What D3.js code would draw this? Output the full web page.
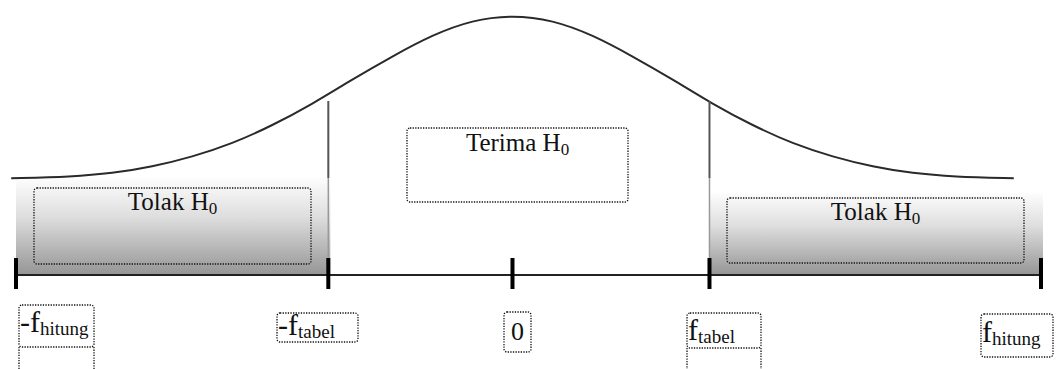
<!DOCTYPE html>
<html>
<head>
<meta charset="utf-8">
<script src="https://cdn.jsdelivr.net/npm/d3@7"></script>
<style>
  body { margin: 0; background: #fff; }
  svg { display: block; }
  text { font-family: "Liberation Serif", "Times New Roman", serif; fill: #111; }
</style>
</head>
<body>
<div id="chart"></div>
<script>
// curve (z position, height relative to peak)
var curveZ = [-3.13, -2.75, -2.5, -2.25, -2, -1.75, -1.5, -1.25, -1, -0.75, -0.5, -0.25, 0,
              0.25, 0.5, 0.75, 1, 1.25, 1.5, 1.75, 2, 2.25, 2.5, 2.75, 3.13];
var curveH = [0.01, 0.02, 0.04, 0.08, 0.14, 0.22, 0.33, 0.46, 0.61, 0.75, 0.88, 0.97, 1,
              0.97, 0.88, 0.75, 0.61, 0.46, 0.33, 0.22, 0.14, 0.08, 0.04, 0.02, 0.01];

// points on the axis
var tickValues = [-3.1, -1.15, 0, 1.23, 3.3];
var tickMain = ["-f", "-f", "0", "f", "f"];
var tickSub = ["hitung", "tabel", "", "tabel", "hitung"];

// regions
var regionNames = ["Tolak H", "Terima H", "Tolak H"];
var regionSub = ["0", "0", "0"];
var regionFrom = [-3.1, -1.15, 1.23];
var regionTo = [-1.15, 1.23, 3.3];

var width = 1057, height = 369;
var axisY = 275;

var svg = d3.select("#chart").append("svg")
    .attr("width", width)
    .attr("height", height);

var x = d3.scaleLinear().domain([-3.1, 3.3]).range([16, 1041]);
var y = d3.scaleLinear().domain([0, 1]).range([180, 15]);

var defs = svg.append("defs");
var grad = defs.append("linearGradient")
    .attr("id", "shade")
    .attr("x1", 0).attr("y1", 0).attr("x2", 0).attr("y2", 1);
grad.append("stop").attr("offset", "0%").attr("stop-color", "#fdfdfd");
grad.append("stop").attr("offset", "40%").attr("stop-color", "#dedede");
grad.append("stop").attr("offset", "100%").attr("stop-color", "#959595");

// shaded rejection regions
var shadeTop = [178, 193];
[0, 2].forEach(function(i, k) {
    svg.append("rect")
        .attr("x", x(regionFrom[i]))
        .attr("y", shadeTop[k])
        .attr("width", x(regionTo[i]) - x(regionFrom[i]) + 2)
        .attr("height", axisY - shadeTop[k])
        .attr("fill", "url(#shade)");
});

// the bell curve
var line = d3.line()
    .x(function(d, i) { return x(curveZ[i]); })
    .y(function(d) { return y(d); })
    .curve(d3.curveBasis);

svg.append("path")
    .datum(curveH)
    .attr("d", line)
    .attr("fill", "none")
    .attr("stroke", "#2a2a2a")
    .attr("stroke-width", 2);

// critical value lines
[tickValues[1], tickValues[3]].forEach(function(v) {
    svg.append("line")
        .attr("x1", x(v)).attr("x2", x(v))
        .attr("y1", 101).attr("y2", 178)
        .attr("stroke", "#555").attr("stroke-width", 2);
    svg.append("line")
        .attr("x1", x(v)).attr("x2", x(v))
        .attr("y1", 178).attr("y2", axisY)
        .attr("stroke", "#999").attr("stroke-width", 1.5);
});

// axis line
svg.append("line")
    .attr("x1", x(tickValues[0])).attr("x2", x(tickValues[4]))
    .attr("y1", axisY).attr("y2", axisY)
    .attr("stroke", "#222").attr("stroke-width", 2);

svg.selectAll(".tick").data(tickValues).enter()
    .append("rect")
    .attr("class", "tick")
    .attr("x", function(d) { return x(d) - 2; })
    .attr("y", 258)
    .attr("width", 4)
    .attr("height", 31)
    .attr("fill", "#000");

function dotted(x0, y0, w, h) {
    svg.append("rect")
        .attr("x", x0).attr("y", y0)
        .attr("width", w).attr("height", h)
        .attr("rx", 3)
        .attr("fill", "none")
        .attr("stroke", "#111")
        .attr("stroke-width", 1.3)
        .attr("stroke-dasharray", "1.3,1.3");
}
function dottedLine(x0, y0, y1) {
    svg.append("line")
        .attr("x1", x0).attr("x2", x0).attr("y1", y0).attr("y2", y1)
        .attr("stroke", "#111").attr("stroke-width", 1.3)
        .attr("stroke-dasharray", "1.3,1.3");
}

// region label boxes
var boxes = [
    {x: 34, y: 188, w: 277, h: 76, ty: 210},
    {x: 407, y: 128, w: 221, h: 74, ty: 151},
    {x: 727, y: 198, w: 297, h: 65, ty: 220}
];
boxes.forEach(function(b, i) {
    dotted(b.x, b.y, b.w, b.h);
    var t = svg.append("text")
        .attr("x", b.x + b.w / 2)
        .attr("y", b.ty)
        .attr("text-anchor", "middle")
        .style("font-size", "25px");
    t.append("tspan").text(regionNames[i]);
    t.append("tspan").attr("dy", 4).style("font-size", "17px").text(regionSub[i]);
});

// tick label boxes
var labelBoxes = [
    {x: 19, y: 305, w: 75, h: 42, ty: 332, tail: true},
    {x: 277, y: 313, w: 81, h: 29, ty: 335, tail: false},
    {x: 504, y: 312, w: 27, h: 40, ty: 340, tail: false},
    {x: 687, y: 313, w: 74, h: 35, ty: 340, tail: true},
    {x: 981, y: 314, w: 72, h: 43, ty: 342, tail: false}
];
labelBoxes.forEach(function(b, i) {
    dotted(b.x, b.y, b.w, b.h);
    if (b.tail) {
        dottedLine(b.x, b.y + b.h, height);
        dottedLine(b.x + b.w, b.y + b.h, height);
    }
    var t = svg.append("text")
        .attr("x", i == 2 ? b.x + b.w / 2 : b.x + 1)
        .attr("y", b.ty)
        .attr("text-anchor", i == 2 ? "middle" : "start")
        .style("font-size", i == 2 ? "26px" : "30px");
    t.append("tspan").text(tickMain[i]);
    if (tickSub[i]) {
        t.append("tspan").attr("dy", 3).style("font-size", "19px").text(tickSub[i]);
    }
});
</script>
</body>
</html>
